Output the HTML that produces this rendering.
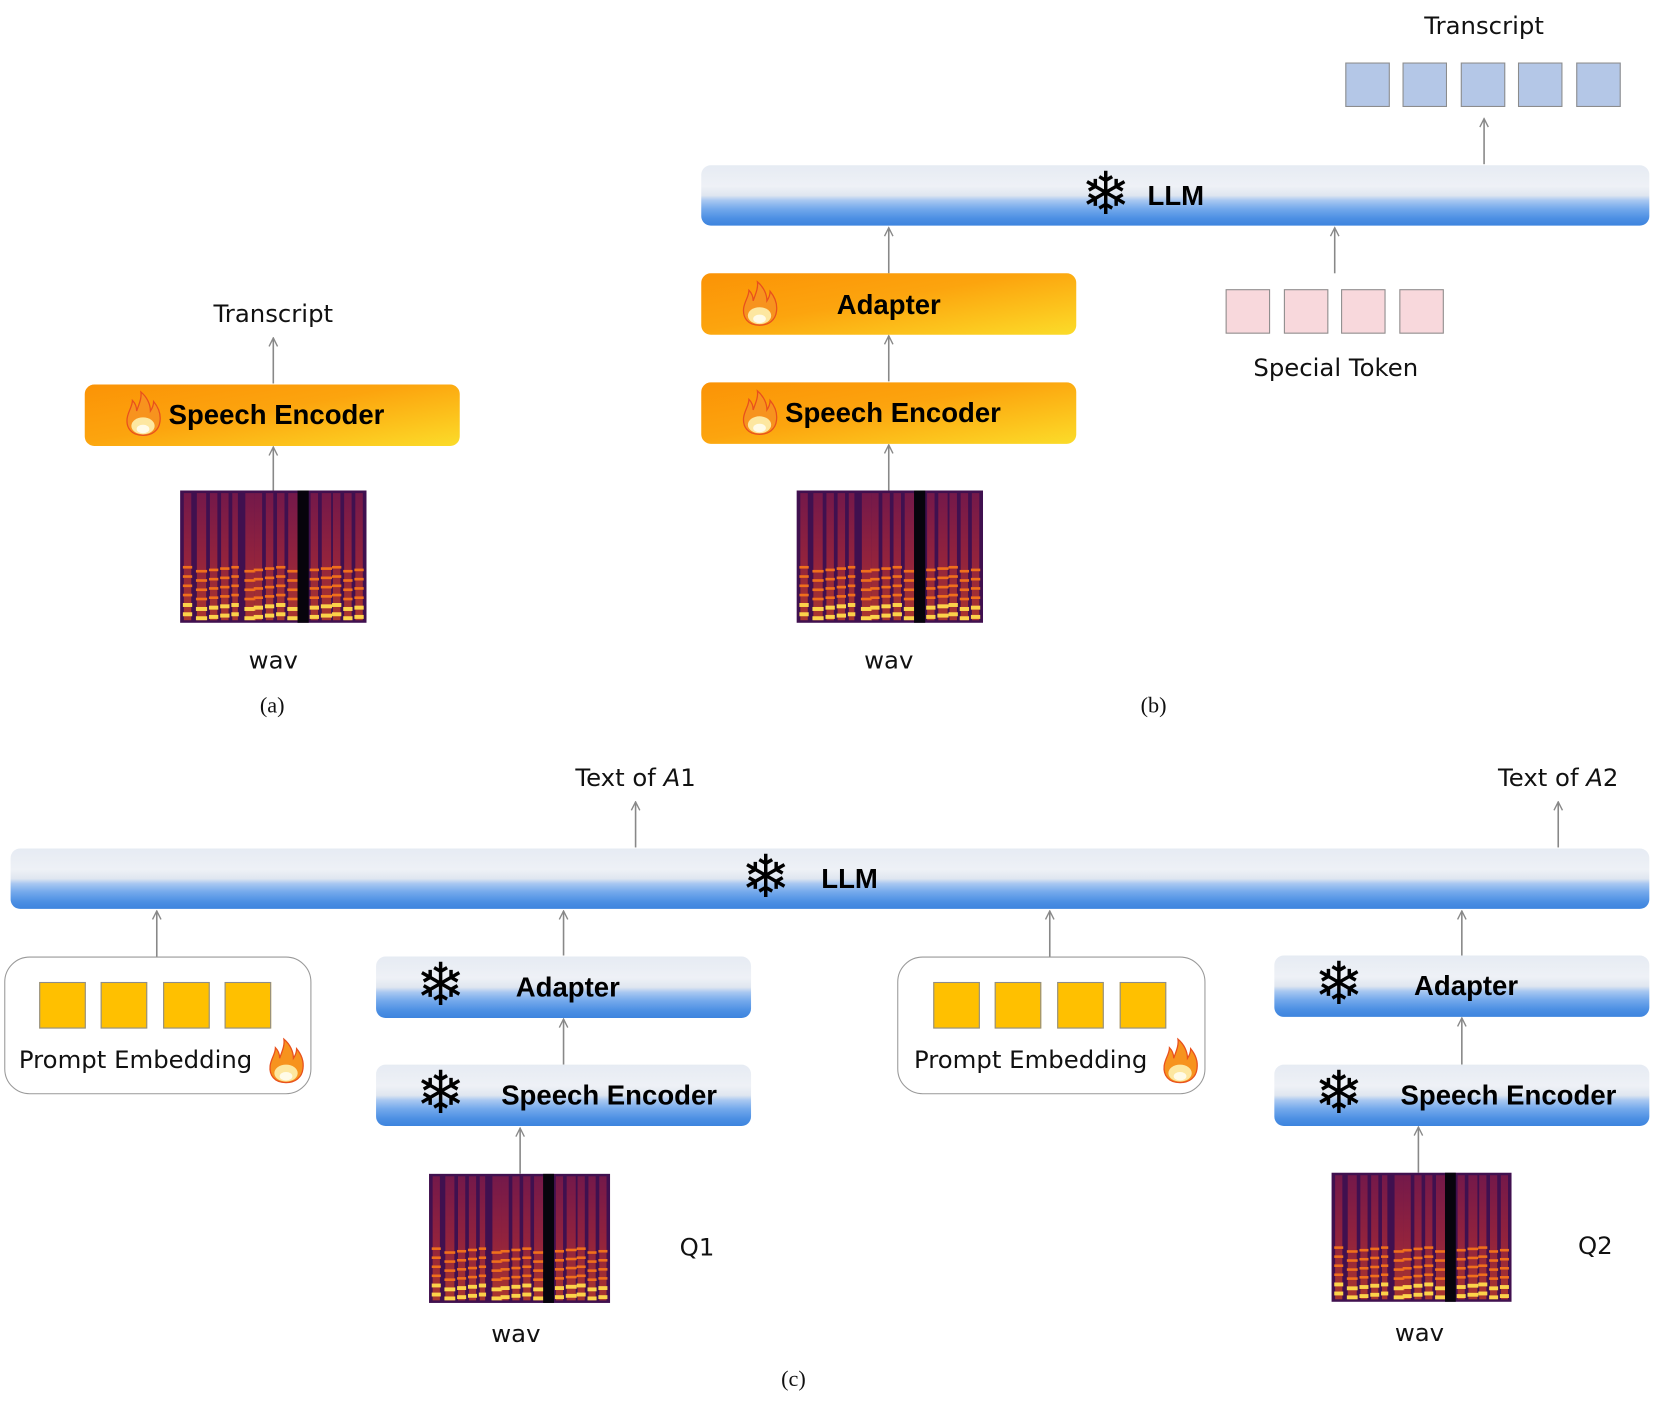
<!DOCTYPE html>
<html><head><meta charset="utf-8">
<style>
html,body{margin:0;padding:0;background:#fff;}
body{width:1661px;height:1403px;overflow:hidden;position:relative;}
#stage{position:absolute;left:0;top:0;width:1568px;height:1325px;transform:scale(1.0593);transform-origin:0 0;}
.abs{position:absolute;}
.hand{font-family:"DejaVu Sans","Liberation Sans",sans-serif;font-size:23px;color:#111;white-space:nowrap;transform:translate(-50%,-50%);position:absolute;}
.cap{font-family:"Liberation Serif",serif;font-size:21px;color:#111;position:absolute;transform:translate(-50%,-50%);}
.orange{position:absolute;border-radius:9px;background:linear-gradient(170deg,#fb9306 0%,#fca40e 45%,#fcc21c 75%,#fbdc2a 100%);}
.blue{position:absolute;border-radius:9px;background:linear-gradient(180deg,#e6ebf3 0%,#eef1f6 35%,#dfe6f0 50%,#a9c8f1 58%,#74a9ec 72%,#4c8fe3 88%,#3d84de 100%);}
.lbl{position:absolute;font-family:"Liberation Sans",sans-serif;font-weight:bold;font-size:26px;color:#000;transform:translate(-50%,-50%);white-space:nowrap;}
.snow{position:absolute;font-family:"DejaVu Sans",sans-serif;font-size:56px;color:#000;transform:translate(-50%,-52%);line-height:1;}
.sq{position:absolute;width:42px;height:42px;box-sizing:border-box;border:1.5px solid #8c8c8c;}
.spec{position:absolute;}
.pbox{position:absolute;border:1.5px solid #999;border-radius:24px;box-sizing:border-box;background:#fff;}
</style></head>
<body>
<div id="stage">
<svg class="abs" style="left:0;top:0" width="1568" height="1325">
<defs><marker id="ah" viewBox="0 0 10 10" refX="9" refY="5" markerWidth="10" markerHeight="10" orient="auto" markerUnits="userSpaceOnUse"><path d="M1,1 L9,5 L1,9" fill="none" stroke="#888" stroke-width="1.3"/></marker></defs>
<g stroke="#888" stroke-width="1.5" fill="none" marker-end="url(#ah)">
<line x1="258" y1="362" x2="258" y2="319"/>
<line x1="258" y1="463" x2="258" y2="422"/>
<line x1="1401" y1="155" x2="1401" y2="112"/>
<line x1="839" y1="258" x2="839" y2="215"/>
<line x1="839" y1="360" x2="839" y2="317"/>
<line x1="839" y1="463" x2="839" y2="420"/>
<line x1="1260" y1="258" x2="1260" y2="215"/>
<line x1="600" y1="800" x2="600" y2="757"/>
<line x1="1471" y1="800" x2="1471" y2="757"/>
<line x1="148" y1="903" x2="148" y2="860"/>
<line x1="532" y1="902" x2="532" y2="860"/>
<line x1="532" y1="1005" x2="532" y2="962"/>
<line x1="491" y1="1108" x2="491" y2="1065"/>
<line x1="991" y1="903" x2="991" y2="860"/>
<line x1="1380" y1="902" x2="1380" y2="860"/>
<line x1="1380" y1="1005" x2="1380" y2="961"/>
<line x1="1339" y1="1107" x2="1339" y2="1064"/>
</g></svg>

<!-- (a) -->
<div class="hand" style="left:258px;top:297px">Transcript</div>
<div class="orange" style="left:80px;top:363px;width:354px;height:58px"></div>
<svg class="abs flame" style="left:116px;top:368px" width="38" height="44" viewBox="0 0 38 44"><path d="M19 43C8 43 3 36 4 27C5 20 9 16 9 10C12 13 13 17 13 20C15 14 18 8 17 2C23 7 26 14 26 20C28 17 29 14 29 11C34 17 36 23 35 30C34 38 28 43 19 43Z" fill="#f7931e" stroke="#e8501d" stroke-width="1.2"/><ellipse cx="19" cy="34" rx="11" ry="8" fill="#fde7a0"/><ellipse cx="19" cy="37" rx="6" ry="4" fill="#fffbe8"/></svg>
<div class="lbl" style="left:261px;top:392px">Speech Encoder</div>
<svg class="spec" style="left:170px;top:463px" width="176" height="125"></svg>
<div class="hand" style="left:258px;top:624px">wav</div>
<div class="cap" style="left:257px;top:666px">(a)</div>

<!-- (b) -->
<div class="hand" style="left:1401px;top:25px">Transcript</div>
<div class="sq" style="left:1270px;top:59px;background:#b4c7e7"></div>
<div class="sq" style="left:1324px;top:59px;background:#b4c7e7"></div>
<div class="sq" style="left:1379px;top:59px;background:#b4c7e7"></div>
<div class="sq" style="left:1433px;top:59px;background:#b4c7e7"></div>
<div class="sq" style="left:1488px;top:59px;background:#b4c7e7"></div>
<div class="blue" style="left:662px;top:156px;width:895px;height:57px"></div>
<div class="snow" style="left:1044px;top:185px">❄</div>
<div class="lbl" style="left:1110px;top:185px">LLM</div>
<div class="orange" style="left:662px;top:258px;width:354px;height:58px"></div>
<svg class="abs" style="left:698px;top:264px" width="38" height="44" viewBox="0 0 38 44"><path d="M19 43C8 43 3 36 4 27C5 20 9 16 9 10C12 13 13 17 13 20C15 14 18 8 17 2C23 7 26 14 26 20C28 17 29 14 29 11C34 17 36 23 35 30C34 38 28 43 19 43Z" fill="#f7931e" stroke="#e8501d" stroke-width="1.2"/><ellipse cx="19" cy="34" rx="11" ry="8" fill="#fde7a0"/><ellipse cx="19" cy="37" rx="6" ry="4" fill="#fffbe8"/></svg>
<div class="lbl" style="left:839px;top:288px">Adapter</div>
<div class="orange" style="left:662px;top:361px;width:354px;height:58px"></div>
<svg class="abs" style="left:698px;top:367px" width="38" height="44" viewBox="0 0 38 44"><path d="M19 43C8 43 3 36 4 27C5 20 9 16 9 10C12 13 13 17 13 20C15 14 18 8 17 2C23 7 26 14 26 20C28 17 29 14 29 11C34 17 36 23 35 30C34 38 28 43 19 43Z" fill="#f7931e" stroke="#e8501d" stroke-width="1.2"/><ellipse cx="19" cy="34" rx="11" ry="8" fill="#fde7a0"/><ellipse cx="19" cy="37" rx="6" ry="4" fill="#fffbe8"/></svg>
<div class="lbl" style="left:843px;top:390px">Speech Encoder</div>
<svg class="spec" style="left:752px;top:463px" width="176" height="125"></svg>
<div class="hand" style="left:839px;top:624px">wav</div>
<div class="sq" style="left:1157px;top:273px;background:#f8d8dc"></div>
<div class="sq" style="left:1212px;top:273px;background:#f8d8dc"></div>
<div class="sq" style="left:1266px;top:273px;background:#f8d8dc"></div>
<div class="sq" style="left:1321px;top:273px;background:#f8d8dc"></div>
<div class="hand" style="left:1261px;top:348px">Special Token</div>
<div class="cap" style="left:1089px;top:666px">(b)</div>

<!-- (c) -->
<div class="hand" style="left:600px;top:735px">Text of <i>A</i>1</div>
<div class="hand" style="left:1471px;top:735px">Text of <i>A</i>2</div>
<div class="blue" style="left:10px;top:801px;width:1547px;height:57px"></div>
<div class="snow" style="left:723px;top:830px">❄</div>
<div class="lbl" style="left:802px;top:830px">LLM</div>

<div class="pbox" style="left:4px;top:903px;width:290px;height:130px"></div>
<div class="sq" style="left:37px;top:927px;width:44px;height:44px;background:#ffc000"></div>
<div class="sq" style="left:95px;top:927px;width:44px;height:44px;background:#ffc000"></div>
<div class="sq" style="left:154px;top:927px;width:44px;height:44px;background:#ffc000"></div>
<div class="sq" style="left:212px;top:927px;width:44px;height:44px;background:#ffc000"></div>
<div class="hand" style="left:128px;top:1001px">Prompt Embedding</div>
<svg class="abs" style="left:251px;top:979px" width="38" height="44" viewBox="0 0 38 44"><path d="M19 43C8 43 3 36 4 27C5 20 9 16 9 10C12 13 13 17 13 20C15 14 18 8 17 2C23 7 26 14 26 20C28 17 29 14 29 11C34 17 36 23 35 30C34 38 28 43 19 43Z" fill="#f7931e" stroke="#e8501d" stroke-width="1.2"/><ellipse cx="19" cy="34" rx="11" ry="8" fill="#fde7a0"/><ellipse cx="19" cy="37" rx="6" ry="4" fill="#fffbe8"/></svg>

<div class="blue" style="left:355px;top:903px;width:354px;height:58px"></div>
<div class="snow" style="left:416px;top:932px">❄</div>
<div class="lbl" style="left:536px;top:932px">Adapter</div>
<div class="blue" style="left:355px;top:1005px;width:354px;height:58px"></div>
<div class="snow" style="left:416px;top:1034px">❄</div>
<div class="lbl" style="left:575px;top:1034px">Speech Encoder</div>
<svg class="spec" style="left:405px;top:1108px" width="171" height="122"></svg>
<div class="hand" style="left:658px;top:1178px">Q1</div>
<div class="hand" style="left:487px;top:1260px">wav</div>

<div class="pbox" style="left:847px;top:903px;width:291px;height:130px"></div>
<div class="sq" style="left:881px;top:927px;width:44px;height:44px;background:#ffc000"></div>
<div class="sq" style="left:939px;top:927px;width:44px;height:44px;background:#ffc000"></div>
<div class="sq" style="left:998px;top:927px;width:44px;height:44px;background:#ffc000"></div>
<div class="sq" style="left:1057px;top:927px;width:44px;height:44px;background:#ffc000"></div>
<div class="hand" style="left:973px;top:1001px">Prompt Embedding</div>
<svg class="abs" style="left:1095px;top:979px" width="38" height="44" viewBox="0 0 38 44"><path d="M19 43C8 43 3 36 4 27C5 20 9 16 9 10C12 13 13 17 13 20C15 14 18 8 17 2C23 7 26 14 26 20C28 17 29 14 29 11C34 17 36 23 35 30C34 38 28 43 19 43Z" fill="#f7931e" stroke="#e8501d" stroke-width="1.2"/><ellipse cx="19" cy="34" rx="11" ry="8" fill="#fde7a0"/><ellipse cx="19" cy="37" rx="6" ry="4" fill="#fffbe8"/></svg>

<div class="blue" style="left:1203px;top:902px;width:354px;height:58px"></div>
<div class="snow" style="left:1264px;top:931px">❄</div>
<div class="lbl" style="left:1384px;top:931px">Adapter</div>
<div class="blue" style="left:1203px;top:1005px;width:354px;height:58px"></div>
<div class="snow" style="left:1264px;top:1034px">❄</div>
<div class="lbl" style="left:1424px;top:1034px">Speech Encoder</div>
<svg class="spec" style="left:1257px;top:1107px" width="170" height="122"></svg>
<div class="hand" style="left:1506px;top:1177px">Q2</div>
<div class="hand" style="left:1340px;top:1259px">wav</div>
<div class="cap" style="left:749px;top:1302px">(c)</div>
</div>
<script>
var NS='http://www.w3.org/2000/svg';
var colStarts=[2,9,16,22,28,35,40,46,52,58,70,76,82,88,94];
var colWidths=[4,5,4,4,3,5,4,4,4,5,4,5,4,4,4];
var bandRows=[94,87,80,73,66,59];
document.querySelectorAll('svg.spec').forEach(function(s,si){
  s.setAttribute('viewBox','0 0 100 100');
  s.setAttribute('preserveAspectRatio','none');
  var defs=document.createElementNS(NS,'defs');
  defs.innerHTML='<linearGradient id="cg'+si+'" x1="0" y1="0" x2="0" y2="1"><stop offset="0" stop-color="#8a1c48"/><stop offset="0.5" stop-color="#b42a36"/><stop offset="1" stop-color="#d8461f"/></linearGradient>';
  s.appendChild(defs);
  var bg=document.createElementNS(NS,'rect');
  
  
  bg.setAttribute('width','100');bg.setAttribute('height','100');bg.setAttribute('fill','#40104f');
  s.appendChild(bg);
  colStarts.forEach(function(x,i){
    var r=document.createElementNS(NS,'rect');
    
    
    r.setAttribute('x',x);r.setAttribute('y','2');r.setAttribute('width',colWidths[i]);r.setAttribute('height','96');
    r.setAttribute('fill','url(#cg'+si+')');r.setAttribute('opacity','0.7');
    s.appendChild(r);
    bandRows.forEach(function(y,j){
      var b=document.createElementNS(NS,'rect');
      
      
      b.setAttribute('x',x-0.5);b.setAttribute('y',y-2+((i*3)%4));b.setAttribute('width',colWidths[i]+1);b.setAttribute('height',j<2?3:2);
      b.setAttribute('fill',j<2?'#fcd34a':'#f0701c');
      s.appendChild(b);
    });
  });
  var gap=document.createElementNS(NS,'rect');
  
  
  gap.setAttribute('x','63');gap.setAttribute('y','0');gap.setAttribute('width','6');gap.setAttribute('height','100');gap.setAttribute('fill','#07040c');
  s.appendChild(gap);
});
</script>
</body></html>
